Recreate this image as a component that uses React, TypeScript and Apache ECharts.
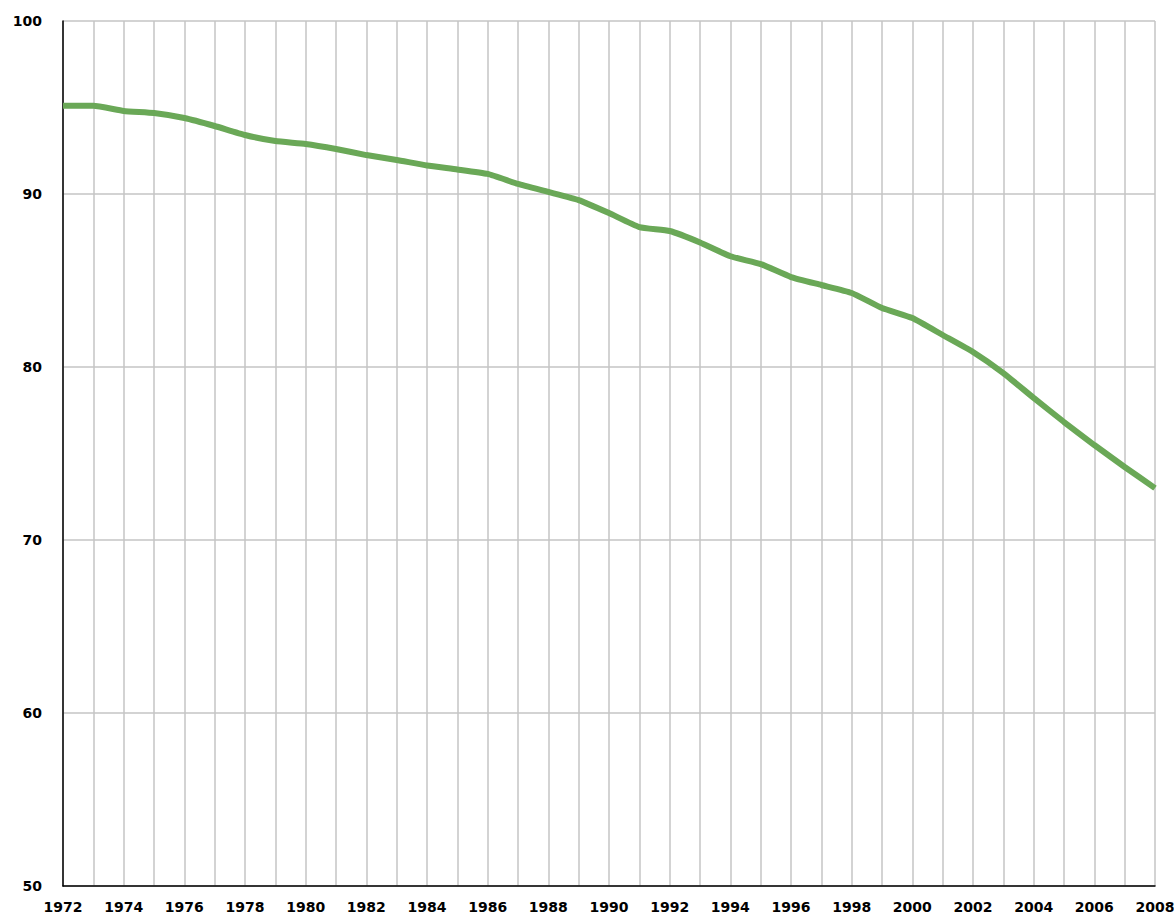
import React, { useEffect, useRef } from "react";
import * as echarts from "echarts";

const years: string[] = [];
for (let y = 1972; y <= 2008; y++) years.push(String(y));

const values = [
  95.1, 95.1, 94.8, 94.68, 94.39, 93.93, 93.41, 93.06, 92.89, 92.6,
  92.25, 91.97, 91.65, 91.42, 91.16, 90.58, 90.12, 89.65, 88.9, 88.09,
  87.86, 87.2, 86.4, 85.95, 85.2, 84.74, 84.28, 83.41, 82.83, 81.85,
  80.87, 79.65, 78.21, 76.82, 75.49, 74.22, 73.0,
];

const yTicks = { min: 50, max: 100, interval: 10 };

export default function App() {
  const ref = useRef<HTMLDivElement>(null);
  useEffect(() => {
    if (!ref.current) return;
    const chart = echarts.init(ref.current, undefined, { renderer: "svg" });
    const labelStyle = {
      color: "#000",
      fontFamily: "DejaVu Sans, Arial, sans-serif",
      fontWeight: "bold" as const,
      fontSize: 14,
    };
    chart.setOption({
      animation: false,
      backgroundColor: "#fff",
      grid: { left: 63, right: 19, top: 21, bottom: 29, containLabel: false, outerBoundsMode: "none" },
      xAxis: {
        type: "category",
        data: years,
        boundaryGap: false,
        axisLine: { show: true, lineStyle: { color: "#000", width: 1.5 } },
        axisTick: { show: false },
        axisLabel: { ...labelStyle, interval: 1, margin: 14, alignMaxLabel: "center", alignMinLabel: "center" },
        splitLine: { show: true, interval: 0, lineStyle: { color: "#c4c4c4", width: 1.5 } },
      },
      yAxis: {
        type: "value",
        min: yTicks.min,
        max: yTicks.max,
        interval: yTicks.interval,
        axisLine: { show: true, lineStyle: { color: "#000", width: 1.5 } },
        axisTick: { show: false },
        axisLabel: { ...labelStyle, margin: 21, padding: [2, 0, 0, 0] },
        splitLine: { show: true, lineStyle: { color: "#c4c4c4", width: 1.5 } },
      },
      series: [
        {
          type: "line",
          data: values,
          symbol: "none",
          smooth: 0.15,
          lineStyle: { color: "#6aa857", width: 6 },
        },
      ],
    });
    return () => chart.dispose();
  }, []);
  return (
    <div
      ref={ref}
      style={{ position: "fixed", left: 0, top: 0, width: 1174, height: 915, background: "#fff" }}
    />
  );
}
